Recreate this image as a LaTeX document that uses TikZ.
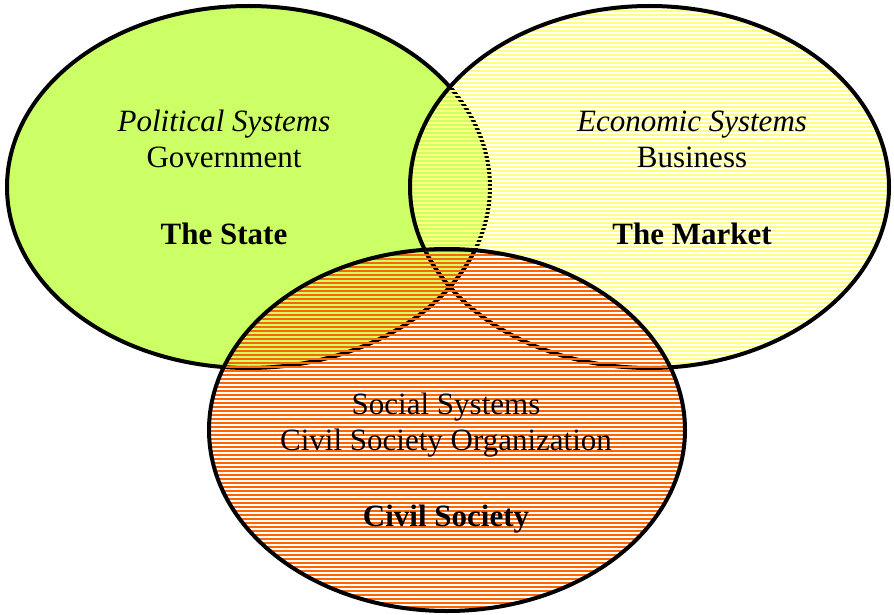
\documentclass[tikz,border=0pt]{standalone}
\usepackage{fontspec}
\setmainfont{Liberation Serif}
\usepackage{xcolor}
\usetikzlibrary{shapes.geometric,patterns.meta}

\definecolor{stategreen}{HTML}{CCFF66}
\definecolor{marketyellow}{HTML}{FFFF80}
\definecolor{civilorange}{HTML}{FF6600}

\begin{document}
\begin{tikzpicture}[x=0.5pt,y=-0.5pt,
    sphere/.style={ellipse,draw=black,line width=2pt,inner sep=0pt,outer sep=0pt},
    label/.style={anchor=base,inner sep=0pt,font=\fontsize{15.5}{18}\selectfont}]
            \useasboundingbox (0,0) rectangle (894,615);
            \node [sphere,fill=stategreen,minimum width=241.5pt,minimum height=181pt] (state) at (248.5,187) {};
            \node [sphere,pattern={Lines[distance=2pt,line width=0.9pt]},pattern color=marketyellow,
                   minimum width=239.5pt,minimum height=181pt] (market) at (649.5,187) {};
            \node [sphere,pattern={Lines[distance=2pt,line width=0.75pt]},pattern color=civilorange,
                   minimum width=238pt,minimum height=181pt] (civil) at (447,430) {};
            % state
            \node [label] (stateSys) at (224,132) {\itshape Political Systems};
            \node [label] (stateOrg) at (224,168) {Government};
            \node [label] (stateName) at (224,244) {\bfseries The State};
            % market
            \node [label] (marketSys) at (692,132) {\itshape Economic Systems};
            \node [label] (marketOrg) at (692,168) {Business};
            \node [label] (marketName) at (692,244) {\bfseries The Market};
            % civil society
            \node [label] (civilSys) at (446,414) {Social Systems};
            \node [label] (civilOrg) at (446,450) {Civil Society Organization};
            \node [label] (civilName) at (446,526) {\bfseries Civil Society};
\end{tikzpicture}
\end{document}
